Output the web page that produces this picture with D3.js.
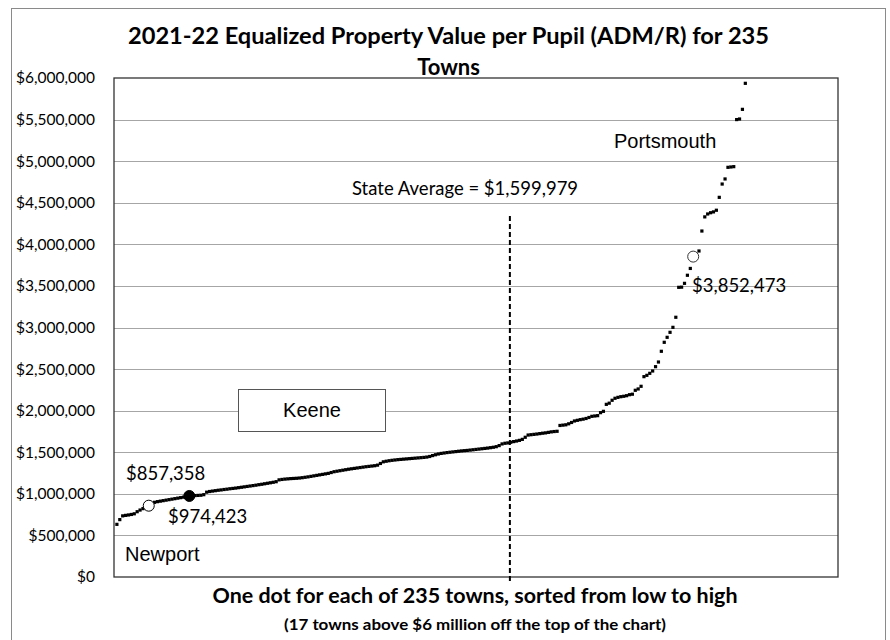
<!DOCTYPE html>
<html><head><meta charset="utf-8">
<script src="https://cdn.jsdelivr.net/npm/d3@7"></script>
<style>body{margin:0;background:#fff}svg{display:block}</style>
</head><body>
<svg id="c" width="890" height="640"></svg>
<script>
// ---- data ----
const titleLines = ["2021-22 Equalized Property Value per Pupil (ADM/R) for 235", "Towns"];
const xLabel = "One dot for each of 235 towns, sorted from low to high";
const xSubLabel = "(17 towns above $6 million off the top of the chart)";
const yTicks = [0,500000,1000000,1500000,2000000,2500000,3000000,3500000,4000000,4500000,5000000,5500000,6000000];
const stateAverage = 1599979;
const stateAverageRank = 136.7;
const rankDomain = [0, 250];
const valueDomain = [0, 6000000];
// Town values sorted low to high (rank 1..235)
const townValues = [
 633000,690000,735000,741000,746000,752000,760000,785000,805000,822000,
 838000,857358,880000,898000,906000,912000,918000,924000,930000,936000,
 942000,948000,954000,960000,967000,974423,977000,979000,981000,983000,
 990000,1020000,1028000,1033000,1038000,1043000,1047000,1052000,1056000,1061000,
 1065000,1069000,1074000,1079000,1084000,1089000,1094000,1099000,1104000,1110000,
 1115000,1121000,1127000,1133000,1139000,1146000,1168000,1173000,1177000,1180000,
 1183000,1185000,1187000,1190000,1194000,1199000,1204000,1210000,1216000,1222000,
 1228000,1234000,1240000,1246000,1256000,1266000,1272000,1278000,1284000,1290000,
 1296000,1301000,1306000,1311000,1316000,1321000,1326000,1330000,1334000,1338000,
 1345000,1365000,1385000,1392000,1398000,1403000,1407000,1411000,1414000,1417000,
 1420000,1423000,1426000,1429000,1432000,1435000,1438000,1442000,1449000,1460000,
 1470000,1479000,1486000,1491000,1496000,1500000,1504000,1508000,1512000,1516000,
 1519000,1522000,1526000,1530000,1534000,1538000,1542000,1546000,1550000,1555000,
 1560000,1567000,1580000,1600000,1608000,1612000,1620000,1628000,1635000,1643000,
 1655000,1680000,1707000,1711000,1715000,1719000,1724000,1729000,1733000,1739000,
 1745000,1749000,1752000,1822000,1826000,1830000,1842000,1858000,1876000,1884000,
 1892000,1898000,1906000,1918000,1932000,1936000,1940000,1976000,1992000,2076000,
 2090000,2125000,2149000,2160000,2168000,2173000,2180000,2192000,2198000,2245000,
 2261000,2293000,2409000,2425000,2449000,2477000,2529000,2585000,2714000,2822000,
 2882000,2942000,3002000,3123000,3483000,3485000,3531000,3628000,3710000,3852473,
 3880000,3920000,4160000,4330000,4365000,4380000,4390000,4410000,4565000,4725000,
 4786000,4926000,4930000,4934000,5500000,5507000,5623000,5936000,
 6100000,6250000,6400000,6600000,6900000,7200000,7600000,8000000,8500000,9100000,
 9800000,10600000,11500000,12700000,14200000,16500000,21000000
];
const highlightNames = ["Newport", "Keene", "Portsmouth"];
const highlightRanks = [12, 26, 200];
const highlightValues = [857358, 974423, 3852473];

// ---- drawing ----
const svg = d3.select("#c");
const W = 890, H = 640;
const plot = {l:114, r:838, t:78, b:577};
const x = d3.scaleLinear().domain(rankDomain).range([plot.l, plot.r]);
const y = d3.scaleLinear().domain(valueDomain).range([plot.b, plot.t]);
const money = d => "$" + d3.format(",")(d);
const calibri = "Lato, 'Open Sans', sans-serif";
const arial = "'Liberation Sans', Arial, sans-serif";

svg.append("rect").attr("width", W).attr("height", H).attr("fill", "#fff");
// outer chart border
svg.append("rect").attr("x", 11.5).attr("y", 8.5).attr("width", 874).attr("height", 660)
  .attr("fill", "none").attr("stroke", "#8a8a8a").attr("stroke-width", 1);

// gridlines
svg.append("g").selectAll("line").data(yTicks.filter(d => d > 0 && d < 6000000)).join("line")
  .attr("x1", plot.l).attr("x2", plot.r)
  .attr("y1", d => Math.round(y(d)) + 0.5).attr("y2", d => Math.round(y(d)) + 0.5)
  .attr("stroke", "#a6a6a6").attr("stroke-width", 1);

// y axis
const yAxis = d3.axisLeft(y).tickValues(yTicks).tickFormat(money).tickSize(0).tickPadding(19);
const ga = svg.append("g").attr("transform", `translate(${plot.l},0)`).call(yAxis);
ga.select(".domain").remove();
ga.selectAll("text").attr("font-family", calibri).attr("font-size", 15.5).attr("fill", "#000");

// plot border
svg.append("rect").attr("x", plot.l).attr("y", plot.t).attr("width", plot.r - plot.l).attr("height", plot.b - plot.t)
  .attr("fill", "none").attr("stroke", "#333").attr("stroke-width", 1.3);

// state average dashed line
svg.append("line")
  .attr("x1", x(stateAverageRank)).attr("x2", x(stateAverageRank))
  .attr("y1", y(4340000)).attr("y2", y(0) + 6)
  .attr("stroke", "#000").attr("stroke-width", 2).attr("stroke-dasharray", "5,3");

// dots
const pts = townValues.map((v, i) => ({rank: i + 1, value: v})).filter(d => d.value <= valueDomain[1]);
svg.append("g").selectAll("rect").data(pts).join("rect")
  .attr("x", d => x(d.rank) - 1.6).attr("y", d => y(d.value) - 1.6)
  .attr("width", 3.2).attr("height", 3.2).attr("fill", "#000");

// highlighted towns
const hl = highlightNames.map((n, i) => ({name: n, rank: highlightRanks[i], value: highlightValues[i]}));
svg.append("g").selectAll("circle").data(hl).join("circle")
  .attr("cx", d => x(d.rank)).attr("cy", d => y(d.value)).attr("r", 5.5)
  .attr("fill", d => d.name === "Keene" ? "#000" : "#fff")
  .attr("stroke", d => d.name === "Portsmouth" ? "#333" : "#000").attr("stroke-width", 1);

// annotations
const txt = (s, tx, ty, size, fam, anchor, weight, len) => {
  const t = svg.append("text").text(s)
    .attr("x", tx).attr("y", ty).attr("font-size", size).attr("font-family", fam)
    .attr("text-anchor", anchor || "start").attr("font-weight", weight || "normal").attr("fill", "#000");
  if (len) t.attr("textLength", len).attr("lengthAdjust", "spacingAndGlyphs");
  return t;
};

txt(titleLines[0], 448.5, 44, 22, calibri, "middle", "bold", 641);
txt(titleLines[1], 448.5, 75, 22, calibri, "middle", "bold");
txt("State Average = " + money(stateAverage), 352, 195, 18.5, calibri);
txt(money(highlightValues[0]), 126, 480, 18.5, calibri);
txt(money(highlightValues[1]), 168, 523, 18.5, calibri);
txt(money(highlightValues[2]), 692, 292, 18.5, calibri);
txt("Portsmouth", 614, 148, 20, arial);
txt("Newport", 125, 561, 20, arial);
svg.append("rect").attr("x", 238.5).attr("y", 389.5).attr("width", 147).attr("height", 42)
  .attr("fill", "#fff").attr("stroke", "#555").attr("stroke-width", 1);
txt("Keene", 312, 417, 20, arial, "middle");
txt(xLabel, 475, 603, 21, calibri, "middle", "bold", 525);
txt(xSubLabel, 475, 630, 15.5, calibri, "middle", "bold", 382);
</script>
</body></html>
